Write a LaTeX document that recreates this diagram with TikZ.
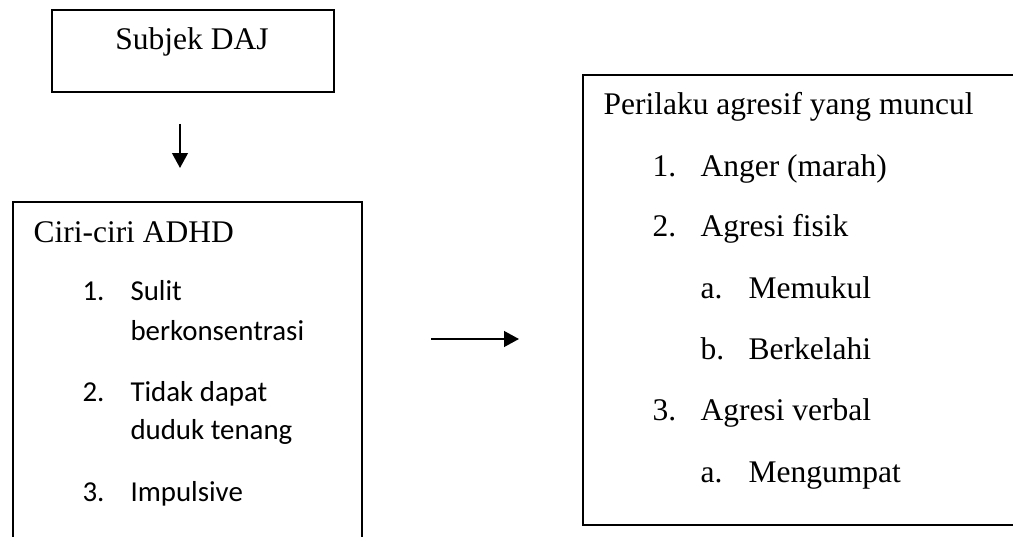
\documentclass[tikz,border=0pt]{standalone}
\usepackage{fontspec}
\setmainfont{Liberation Serif}
\newfontfamily\calibri{Carlito}
\usetikzlibrary{arrows.meta,positioning}
\definecolor{dajink}{RGB}{0,0,0}

\begin{document}
\begin{tikzpicture}[x=0.381pt,y=-0.381pt,
  box/.style={draw=dajink,line width=0.75pt,inner sep=0pt},
  txt/.style={anchor=base west,inner sep=0pt,font=\fontsize{12}{14}\selectfont},
  cal/.style={anchor=base west,inner sep=0pt,font=\calibri\fontsize{11}{13}\selectfont},
  arr/.style={draw=dajink,line width=0.75pt,-{Triangle[length=5.7pt,width=6pt]}}]
  \path[use as bounding box,clip] (0,0) rectangle (1013,537);
  % boxes (left and right one run past the picture edge)
  \node[box,minimum width=107.4pt,minimum height=31.2pt] (subjek) at (193,51) {};
  \node[box,minimum width=133pt,minimum height=136.4pt] (ciri) at (187.5,381) {};
  \node[box,minimum width=174.1pt,minimum height=171.5pt] (agresif) at (811.5,300) {};
  % arrows
  \coordinate (d1) at (180,124); \coordinate (d2) at (180,168);
  \coordinate (r1) at (431,339); \coordinate (r2) at (519,339);
  \draw[arr] (d1) -- (d2); \draw[arr] (r1) -- (r2);
  % texts
  \node[txt,anchor=base] (subjekT) at (192,50) {Subjek DAJ};
  \node[txt] (ciriT) at (33,243) {Ciri-ciri ADHD};
  \node[cal] (c1) at (82,301) {\makebox[18.3pt][l]{1.}Sulit}; \node[cal] (c1b) at (130,340) {berkonsentrasi};
  \node[cal] (c2) at (82,401) {\makebox[18.3pt][l]{2.}Tidak dapat}; \node[cal] (c2b) at (130,439) {duduk tenang};
  \node[cal] (c3) at (82,501) {\makebox[18.3pt][l]{3.}Impulsive};
  \node[txt] (agresifT) at (603,115) {Perilaku agresif yang muncul};
  \node[txt] (p1) at (652,177) {\makebox[18.3pt][l]{1.}Anger (marah)};
  \node[txt] (p2) at (652,237) {\makebox[18.3pt][l]{2.}Agresi fisik};
  \node[txt] (p2a) at (700,299) {\makebox[18.3pt][l]{a.}Memukul};
  \node[txt] (p2b) at (700,359) {\makebox[18.3pt][l]{b.}Berkelahi};
  \node[txt] (p3) at (652,421) {\makebox[18.3pt][l]{3.}Agresi verbal};
  \node[txt] (p3a) at (700,482) {\makebox[18.3pt][l]{a.}Mengumpat};
\end{tikzpicture}
\end{document}
